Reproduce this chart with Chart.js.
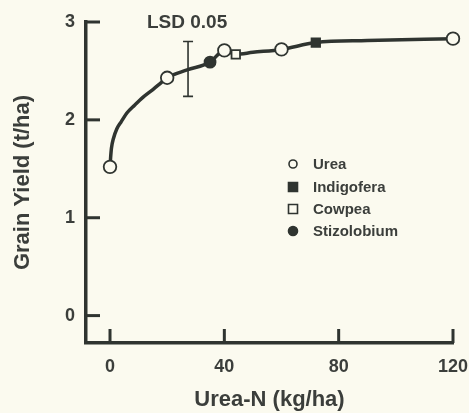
<!DOCTYPE html>
<html>
<head>
<meta charset="utf-8">
<script src="https://cdn.jsdelivr.net/npm/chart.js@4"></script>
<style>
html,body{margin:0;padding:0;background:#fbfaef;}
#wrap{width:469px;height:413px;}
</style>
</head>
<body>
<div id="wrap"><canvas id="c" width="469" height="413"></canvas></div>
<script>
// ---- data ----
const xTicks = [0, 40, 80, 120];
const yTicks = [0, 1, 2, 3];

const ureaX = [0, 20, 40, 60, 120];
const ureaY = [1.52, 2.43, 2.71, 2.72, 2.83];

const indigoferaX = [72];
const indigoferaY = [2.79];

const cowpeaX = [44];
const cowpeaY = [2.67];

const stizolobiumX = [35];
const stizolobiumY = [2.59];

// response curve
const curveX = [0, 0.2, 0.5, 1.2, 2.4, 3.9, 5.9, 8.6, 11.5, 15.0, 17.9, 20, 27, 35, 40, 44, 50, 60, 72, 90, 120];
const curveY = [1.52, 1.61, 1.71, 1.81, 1.91, 1.98, 2.07, 2.15, 2.23, 2.31, 2.38, 2.43, 2.51, 2.59, 2.71, 2.67, 2.69, 2.72, 2.79, 2.81, 2.83];

// LSD error bar
const lsdX = [27.3];
const lsdLow = [2.24];
const lsdHigh = [2.80];
const lsdLabel = 'LSD 0.05';

const seriesLabels = ['Urea', 'Indigofera', 'Cowpea', 'Stizolobium'];

const INK = '#2f3430';
const TXT = '#3b3e3b';
const BG = '#fbfaef';
const FONT = '"Liberation Sans", Arial, sans-serif';

const pts = (xs, ys) => xs.map((x, i) => ({x: x, y: ys[i]}));

const bgPlugin = {
  id: 'bg',
  beforeDraw(chart) {
    const ctx = chart.ctx;
    ctx.save();
    ctx.fillStyle = BG;
    ctx.fillRect(0, 0, chart.width, chart.height);
    ctx.restore();
  }
};

const decorPlugin = {
  id: 'decor',
  afterDatasetsDraw(chart) {
    const ctx = chart.ctx;
    const xs = chart.scales.x, ys = chart.scales.y;
    const area = chart.chartArea;
    ctx.save();
    // inward ticks
    ctx.strokeStyle = INK;
    ctx.lineWidth = 3;
    ctx.lineCap = 'butt';
    yTicks.forEach(v => {
      const py = ys.getPixelForValue(v);
      ctx.beginPath();
      ctx.moveTo(area.left, py);
      ctx.lineTo(area.left + 14, py);
      ctx.stroke();
    });
    xTicks.forEach(v => {
      const px = xs.getPixelForValue(v);
      ctx.beginPath();
      ctx.moveTo(px, area.bottom);
      ctx.lineTo(px, area.bottom - 14);
      ctx.stroke();
    });
    // LSD bar
    ctx.lineWidth = 1.6;
    lsdX.forEach((x, i) => {
      const px = xs.getPixelForValue(x);
      const p1 = ys.getPixelForValue(lsdLow[i]);
      const p2 = ys.getPixelForValue(lsdHigh[i]);
      ctx.beginPath();
      ctx.moveTo(px, p1); ctx.lineTo(px, p2);
      ctx.moveTo(px - 5, p1); ctx.lineTo(px + 5, p1);
      ctx.moveTo(px - 5, p2); ctx.lineTo(px + 5, p2);
      ctx.stroke();
    });
    ctx.fillStyle = TXT;
    ctx.font = 'bold 19px ' + FONT;
    ctx.textAlign = 'left';
    ctx.textBaseline = 'middle';
    ctx.fillText(lsdLabel, 147, 23);

    // legend
    const lx = 293, tx = 313;
    const rows = [164, 187, 209, 231];
    ctx.font = 'bold 15px ' + FONT;
    chart.data.datasets.slice(1).forEach((ds, i) => {
      const cy = rows[i];
      ctx.lineWidth = 1.6;
      ctx.strokeStyle = INK;
      ctx.fillStyle = ds.pointBackgroundColor;
      if (ds.pointStyle === 'circle') {
        ctx.beginPath();
        ctx.arc(lx, cy, ds.pointBackgroundColor === INK ? 4.5 : 4, 0, Math.PI * 2);
        ctx.fill(); ctx.stroke();
      } else {
        ctx.beginPath();
        ctx.rect(lx - 4.5, cy - 4.5, 9, 9);
        ctx.fill(); ctx.stroke();
      }
      ctx.fillStyle = TXT;
      ctx.fillText(ds.label, tx, cy + 1);
    });
    ctx.restore();
  }
};

const markerDs = (label, data, style, fill, radius) => ({
  type: 'scatter',
  label: label,
  data: data,
  showLine: false,
  clip: false,
  pointStyle: style,
  pointRadius: radius,
  pointHoverRadius: radius,
  pointBackgroundColor: fill,
  pointBorderColor: INK,
  pointBorderWidth: 1.8,
  order: 0
});

new Chart(document.getElementById('c'), {
  type: 'scatter',
  data: {
    datasets: [
      {
        type: 'line',
        label: 'curve',
        data: pts(curveX, curveY),
        borderColor: INK,
        borderWidth: 3.5,
        pointRadius: 0,
        fill: false,
        clip: false,
        cubicInterpolationMode: 'monotone',
        order: 1
      },
      markerDs(seriesLabels[0], pts(ureaX, ureaY), 'circle', BG, 6.3),
      markerDs(seriesLabels[1], pts(indigoferaX, indigoferaY), 'rect', INK, 6),
      markerDs(seriesLabels[2], pts(cowpeaX, cowpeaY), 'rect', BG, 6),
      markerDs(seriesLabels[3], pts(stizolobiumX, stizolobiumY), 'circle', INK, 5.5)
    ]
  },
  options: {
    responsive: false,
    animation: false,
    devicePixelRatio: 1,
    layout: {padding: {top: 22, right: 16, left: 0, bottom: 0}},
    plugins: {legend: {display: false}, tooltip: {enabled: false}},
    scales: {
      x: {
        type: 'linear',
        min: -8.4,
        max: 120,
        afterBuildTicks(s) { s.ticks = xTicks.map(v => ({value: v})); },
        afterFit(s) { s.height = 70; s.paddingLeft = 0; s.paddingRight = 0; },
        grid: {display: true, drawOnChartArea: false, drawTicks: false},
        border: {display: true, color: INK, width: 3.5},
        ticks: {color: TXT, font: {family: FONT, size: 18, weight: 'bold'}, padding: 13, maxRotation: 0, autoSkip: false},
        title: {display: true, text: 'Urea-N (kg/ha)', color: TXT, font: {family: FONT, size: 22, weight: 'bold'}, padding: {top: 0, bottom: 0}}
      },
      y: {
        type: 'linear',
        min: -0.28,
        max: 3,
        afterBuildTicks(s) { s.ticks = yTicks.map(v => ({value: v})); },
        afterFit(s) { s.width = 86; s.paddingTop = 0; s.paddingBottom = 0; },
        grid: {display: true, drawOnChartArea: false, drawTicks: false},
        border: {display: true, color: INK, width: 3.5},
        ticks: {color: TXT, font: {family: FONT, size: 18, weight: 'bold'}, padding: 11},
        title: {display: true, text: 'Grain Yield (t/ha)', color: TXT, font: {family: FONT, size: 22, weight: 'bold'}, padding: {top: 10, bottom: 0}}
      }
    }
  },
  plugins: [bgPlugin, decorPlugin]
});
</script>
</body>
</html>
